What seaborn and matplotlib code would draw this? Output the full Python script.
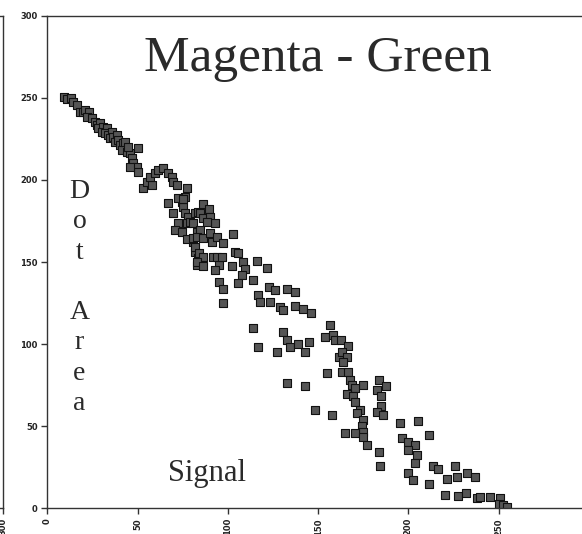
import pandas as pd
import matplotlib
matplotlib.use("Agg")
import matplotlib.pyplot as plt
import seaborn as sns

# Data (Signal on x, Dot Area on y)
band_signal = [9.1, 10.6, 12.9, 14.3, 16.2, 18.0, 19.8, 20.8, 23.2, 21.7, 24.5, 26.3, 27.3, 29.1,
               28.2, 30.9, 30.0, 32.8, 31.9, 33.7, 35.6, 34.6, 36.5, 38.4, 37.4, 39.2, 40.2, 42.0,
               43.0, 41.1, 43.9, 45.7, 50.3, 46.7, 47.6, 49.8, 50.3, 45.7, 43.0, 44.8]
band_area = [250.7, 249.3, 249.7, 247.6, 245.6, 241.5, 241.5, 242.6, 241.5, 238.5, 237.5, 235.4,
             233.4, 234.5, 231.4, 232.4, 229.4, 231.4, 228.4, 227.3, 229.4, 225.3, 226.3, 227.3,
             223.3, 224.3, 221.3, 222.3, 219.2, 218.2, 217.2, 216.2, 219.2, 213.2, 210.1, 208.0,
             205.0, 208.0, 223.3, 220.2]

bump_signal = [53.1, 55.0, 57.8, 56.8, 59.6, 61.4, 64.2, 67.0, 68.8, 69.7, 71.6, 77.2, 76.2,
               74.4, 67.0, 69.7, 72.5, 75.3, 72.5, 70.7, 74.4, 80.8, 81.8, 83.6, 85.5, 82.7]
bump_area = [194.9, 198.9, 196.9, 201.9, 204.0, 206.0, 207.1, 204.0, 201.9, 198.9, 196.9, 194.9,
             189.8, 186.7, 185.8, 179.7, 188.8, 183.7, 173.6, 169.5, 168.5, 162.4, 156.3, 152.3,
             149.2, 148.2]

mid_signal = [74.9, 76.2, 78.0, 77.2, 79.0, 80.8, 81.8, 83.6, 86.0, 84.5, 86.4, 89.7, 90.1, 92.8,
              88.2, 82.7, 84.5, 77.2, 80.5, 82.7, 86.4, 90.1, 91.0, 93.8, 97.5, 103.0, 81.8, 84.1,
              86.0, 82.7, 86.4, 91.9, 93.8, 95.2, 92.8, 95.2, 97.5, 97.5, 103.9, 105.8, 102.1,
              108.5, 109.5, 107.6, 105.8, 113.7, 116.0, 121.5, 116.9, 117.8, 122.9, 126.1, 132.6,
              137.2, 123.3, 128.9, 130.7, 137.2, 141.8, 145.9, 114.1, 116.9, 130.7, 132.6, 134.4,
              139.0, 145.1, 142.7, 127.4, 132.6, 142.7, 154.8, 156.6, 153.8, 158.4, 159.4, 161.7,
              96.6]
mid_area = [188.2, 180.0, 177.6, 173.6, 174.5, 173.6, 179.7, 180.6, 185.3, 179.7, 176.6, 182.1,
            177.6, 173.6, 174.5, 168.5, 169.5, 163.8, 164.4, 165.4, 164.4, 167.5, 162.4, 165.4,
            161.4, 167.1, 159.3, 155.3, 153.2, 150.2, 147.6, 153.2, 152.9, 148.2, 145.1, 138.0,
            133.4, 125.2, 156.3, 155.3, 147.8, 150.2, 145.6, 142.1, 137.0, 139.0, 150.8, 146.2,
            129.9, 125.8, 135.0, 133.0, 133.4, 131.9, 125.8, 122.8, 120.8, 123.2, 121.2, 118.8,
            109.6, 98.1, 107.6, 102.5, 98.4, 100.1, 101.5, 95.4, 95.4, 76.5, 74.5, 82.2, 111.6,
            104.5, 105.5, 102.5, 92.3, 153.2]

tail_signal = [162.5, 166.7, 163.1, 165.9, 164.0, 163.1, 166.7, 167.7, 168.6, 175.1, 170.5, 165.9,
               169.5, 170.5, 173.2, 171.4, 175.1, 174.2, 175.1, 170.5, 164.9, 175.1, 176.9, 148.3,
               157.5, 183.9, 187.6, 182.5, 184.7, 184.7, 182.5, 186.1, 183.9, 184.3, 195.4, 205.5,
               211.6, 196.3, 200.0, 203.7, 200.0, 205.0, 203.7, 200.0, 202.4, 211.6, 213.5, 216.6,
               225.9, 227.2, 221.3, 232.7, 237.0, 220.3, 227.7, 232.0, 237.9, 239.7, 245.3, 250.8,
               250.4, 252.7, 254.5]
tail_area = [102.5, 98.9, 95.4, 92.3, 89.3, 83.2, 83.2, 78.1, 75.1, 75.1, 73.1, 69.6, 68.4, 64.9,
             59.9, 57.9, 53.8, 50.1, 46.6, 45.7, 46.0, 43.6, 38.6, 59.9, 56.8, 78.1, 74.5, 72.0,
             68.4, 62.3, 58.8, 56.8, 34.5, 25.8, 51.8, 53.3, 44.6, 42.6, 40.6, 38.6, 35.6, 32.5,
             27.8, 21.7, 17.2, 14.6, 25.8, 23.8, 25.8, 19.2, 17.7, 21.3, 19.2, 8.1, 7.5, 9.5, 6.1,
             7.1, 7.1, 6.1, 2.6, 2.0, 0.6]

axis_ticks = [0, 50, 100, 150, 200, 250, 300]

df = pd.DataFrame({
    'Signal': band_signal + bump_signal + mid_signal + tail_signal,
    'Dot Area': band_area + bump_area + mid_area + tail_area,
})

sns.set_style("ticks")
plt.rcParams['font.family'] = ['DejaVu Sans']

fig = plt.figure(figsize=(5.82, 5.34), dpi=100)

# neighbouring panel, only its right edge (and its "300" tick) shows
ax0 = fig.add_axes([0.0046 - 0.930, 0.0481, 0.930, 0.9225])
ax = fig.add_axes([0.0816, 0.0481, 0.930, 0.9225])

sns.scatterplot(data=df, x='Signal', y='Dot Area', marker='s', s=30,
                color='#555555', edgecolor='#111111', linewidth=0.8, ax=ax)


def style_axes(a, xticks, yticks):
    a.set_xlim(0, 300)
    a.set_ylim(0, 300)
    a.set_xticks(xticks)
    a.set_xticklabels([str(t) for t in xticks], rotation=90)
    a.set_yticks(yticks)
    a.set_yticklabels([str(t) for t in yticks])
    a.set_xlabel('')
    a.set_ylabel('')
    a.tick_params(length=4.5, width=1.0, color='#333333', pad=2.5,
                  labelsize=6, labelcolor='#222222')
    for lab in a.get_xticklabels() + a.get_yticklabels():
        lab.set_fontweight('bold')
    for sp in a.spines.values():
        sp.set_color('#333333')
        sp.set_linewidth(1.0)
        sp.set_visible(True)


style_axes(ax0, axis_ticks[-1:], [])
style_axes(ax, axis_ticks[:-1], axis_ticks)

serif = ['Liberation Serif', 'DejaVu Serif']
ax.text(0.5, 0.888, 'Magenta - Green', transform=ax.transAxes, ha='center',
        va='baseline', fontsize=37, family=serif, color='#2a2a2a')
ax.text(0.2956, 0.0554, 'Signal', transform=ax.transAxes, ha='center',
        va='baseline', fontsize=22, family=serif, color='#2a2a2a')

for i, ch in enumerate('Dot Area'):
    if ch == ' ':
        continue
    ax.text(0.059, 0.630 - i * 0.0615, ch, transform=ax.transAxes, ha='center',
            va='baseline', fontsize=20, family=serif, color='#2a2a2a')

fig.savefig('out.png', dpi=100)
